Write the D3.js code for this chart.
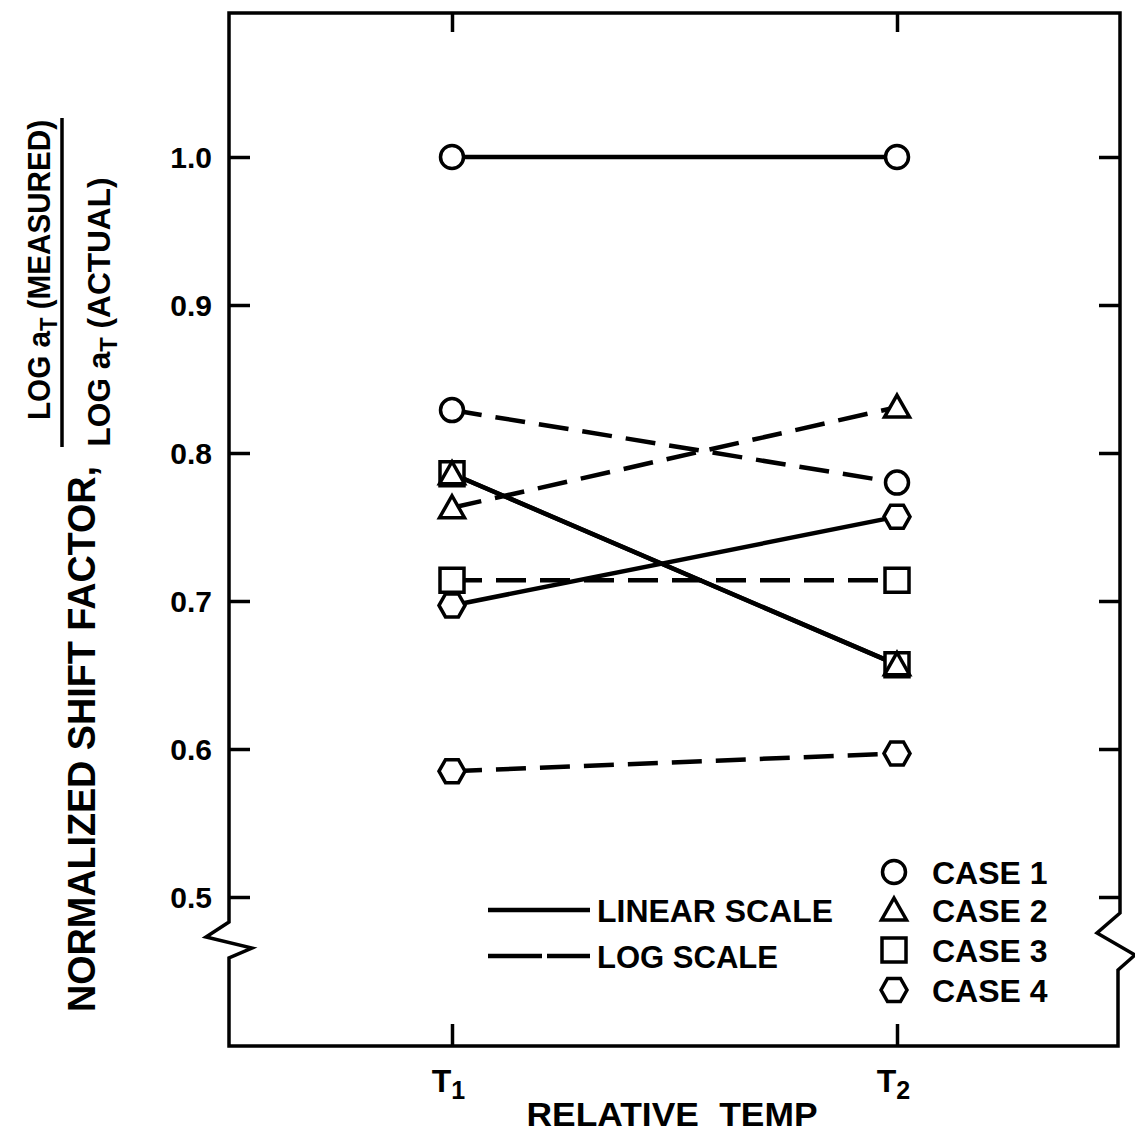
<!DOCTYPE html>
<html>
<head>
<meta charset="utf-8">
<script src="https://cdn.jsdelivr.net/npm/d3@7"></script>
<style>
  html, body { margin: 0; padding: 0; background: #fff; }
  svg { display: block; }
  text { font-family: "Liberation Sans", Arial, sans-serif; font-weight: bold; fill: #000; }
</style>
</head>
<body>
<script>
// Temperatures along the x axis and the four test cases
const categories = ["T1", "T2"];
const categoryLabels = [["T", "1"], ["T", "2"]];
const caseNames = ["CASE 1", "CASE 2", "CASE 3", "CASE 4"];
const caseShapes = ["circle", "triangle", "square", "hexagon"];

// Normalized shift factor at T1, T2 for each case
const linearScale = [
  [1.000, 1.000],
  [0.786, 0.657],
  [0.786, 0.657],
  [0.697, 0.757]
];
const logScale = [
  [0.829, 0.780],
  [0.763, 0.831],
  [0.714, 0.714],
  [0.585, 0.597]
];

const yTicks = [0.5, 0.6, 0.7, 0.8, 0.9, 1.0];
const lineStyles = ["LINEAR SCALE", "LOG SCALE"];

const W = 1135, H = 1134;
const frame = { left: 229, right: 1120, top: 13, bottom: 1046 };
const INK = "#000";
const dash = "30,14";

const svg = d3.select("body").append("svg")
  .attr("width", W).attr("height", H);

const x = d3.scalePoint().domain(categories).range([452, 897]);
const y = d3.scaleLinear().domain([0.5, 1.0]).range([897, 157]);

// Plot frame, with a break in both vertical sides below 0.5
const framePath = d3.path();
framePath.moveTo(frame.left, frame.top);
framePath.lineTo(frame.right, frame.top);
framePath.lineTo(frame.right, 913);
framePath.lineTo(1097, 933);
framePath.lineTo(1135, 955);
framePath.lineTo(1118, 970);
framePath.lineTo(1118, frame.bottom);
framePath.lineTo(frame.left, frame.bottom);
framePath.lineTo(frame.left, 958);
framePath.lineTo(252, 948);
framePath.lineTo(206, 937);
framePath.lineTo(frame.left, 922);
framePath.closePath();
svg.append("path").attr("d", framePath.toString())
  .attr("fill", "none").attr("stroke", INK).attr("stroke-width", 3.5)
  .attr("stroke-linejoin", "miter");

// Inward ticks on all four sides
function styleAxis(g) {
  g.select(".domain").remove();
  g.selectAll(".tick line").attr("stroke", INK).attr("stroke-width", 3.5);
}

const yLeft = svg.append("g")
  .attr("transform", `translate(${frame.left},0)`)
  .call(d3.axisLeft(y).tickValues(yTicks).tickSize(-21).tickPadding(17)
    .tickFormat(d3.format(".1f")));
styleAxis(yLeft);
yLeft.attr("font-size", null).attr("font-family", null);
yLeft.selectAll(".tick text")
  .attr("font-size", 30).attr("fill", INK)
  .attr("dy", "0.36em");

const yRight = svg.append("g")
  .attr("transform", `translate(${frame.right},0)`)
  .call(d3.axisRight(y).tickValues(yTicks).tickSize(-21).tickFormat(""));
styleAxis(yRight);

const xTop = svg.append("g")
  .attr("transform", `translate(0,${frame.top})`)
  .call(d3.axisTop(x).tickSize(-19).tickFormat(""));
styleAxis(xTop);

const xBottom = svg.append("g")
  .attr("transform", `translate(0,${frame.bottom})`)
  .call(d3.axisBottom(x).tickSize(-22).tickFormat(""));
styleAxis(xBottom);
xBottom.attr("font-size", null).attr("font-family", null);

// T1 / T2 labels with subscripts
xBottom.selectAll(".tick").each(function(d, i) {
  const t = d3.select(this).append("text")
    .attr("x", -4).attr("y", 46)
    .attr("text-anchor", "middle").attr("font-size", 32);
  t.append("tspan").text(categoryLabels[i][0]);
  t.append("tspan").attr("font-size", 25).attr("dy", 7).text(categoryLabels[i][1]);
});

// Axis titles
svg.append("text")
  .attr("x", 672).attr("y", 1126)
  .attr("text-anchor", "middle").attr("font-size", 34)
  .attr("textLength", 291).attr("lengthAdjust", "spacingAndGlyphs")
  .attr("word-spacing", 10)
  .text("RELATIVE TEMP");

svg.append("text")
  .attr("transform", "translate(95,739) rotate(-90)")
  .attr("text-anchor", "middle").attr("font-size", 39)
  .attr("textLength", 546).attr("lengthAdjust", "spacingAndGlyphs")
  .text("NORMALIZED SHIFT FACTOR,");

function ratioPart(cx, cy, len, size, tail) {
  const t = svg.append("text")
    .attr("transform", `translate(${cx},${cy}) rotate(-90)`)
    .attr("text-anchor", "middle").attr("font-size", size)
    .attr("textLength", len).attr("lengthAdjust", "spacingAndGlyphs");
  t.append("tspan").text("LOG a");
  t.append("tspan").attr("font-size", size * 0.75).attr("dy", 7).text("T");
  t.append("tspan").attr("dy", -7).text(" " + tail);
}
ratioPart(50, 270, 300, 31, "(MEASURED)");
svg.append("line")
  .attr("x1", 62).attr("x2", 62).attr("y1", 118).attr("y2", 447)
  .attr("stroke", INK).attr("stroke-width", 3.5);
ratioPart(110, 312, 269, 31, "(ACTUAL)");

// Marker outlines centred on the origin
function shapePath(shape) {
  const p = d3.path();
  if (shape === "circle") {
    p.arc(0, 0, 11.5, 0, 2 * Math.PI);
  } else if (shape === "triangle") {
    p.moveTo(0, -12); p.lineTo(12.5, 10); p.lineTo(-12.5, 10); p.closePath();
  } else if (shape === "square") {
    p.rect(-12, -12, 24, 24);
  } else {
    p.moveTo(-13, 0); p.lineTo(-6.5, -11.5); p.lineTo(6.5, -11.5);
    p.lineTo(13, 0); p.lineTo(6.5, 11.5); p.lineTo(-6.5, 11.5); p.closePath();
  }
  return p.toString();
}

const line = d3.line().x(d => x(d.cat)).y(d => y(d.v));
const toPoints = vals => categories.map((c, j) => ({ cat: c, v: vals[j] }));

const seriesGroup = svg.append("g");
[[logScale, dash], [linearScale, null]].forEach(([set, dasharray]) => {
  set.forEach(vals => {
    seriesGroup.append("path")
      .attr("d", line(toPoints(vals)))
      .attr("fill", "none").attr("stroke", INK).attr("stroke-width", 4.5)
      .attr("stroke-dasharray", dasharray);
  });
});

const markerGroup = svg.append("g");
[logScale, linearScale].forEach(set => {
  // squares first so the triangle sitting on the same point stays visible
  [0, 2, 3, 1].forEach(i => {
    toPoints(set[i]).forEach(p => {
      markerGroup.append("path")
        .attr("d", shapePath(caseShapes[i]))
        .attr("transform", `translate(${x(p.cat)},${y(p.v)})`)
        .attr("fill", "#fff").attr("stroke", INK).attr("stroke-width", 3.5)
        .attr("stroke-linejoin", "miter");
    });
  });
});

// Legend: line styles
const styleLegend = svg.append("g");
lineStyles.forEach((name, i) => {
  const ly = 910 + i * 46;
  styleLegend.append("line")
    .attr("x1", 488).attr("x2", 590).attr("y1", ly).attr("y2", ly)
    .attr("stroke", INK).attr("stroke-width", 4.5)
    .attr("stroke-dasharray", i === 0 ? null : "54,5,43");
  styleLegend.append("text")
    .attr("x", 597).attr("y", ly + 12).attr("font-size", 32)
    .attr("textLength", i === 0 ? 236 : 181).attr("lengthAdjust", "spacingAndGlyphs")
    .text(name);
});

// Legend: case markers
const caseLegend = svg.append("g");
caseNames.forEach((name, i) => {
  const ly = [872, 910, 950, 990][i];
  caseLegend.append("path")
    .attr("d", shapePath(caseShapes[i]))
    .attr("transform", `translate(894,${ly})`)
    .attr("fill", "#fff").attr("stroke", INK).attr("stroke-width", 3.5);
  caseLegend.append("text")
    .attr("x", 932).attr("y", ly + 12).attr("font-size", 32)
    .text(name);
});
</script>
</body>
</html>
